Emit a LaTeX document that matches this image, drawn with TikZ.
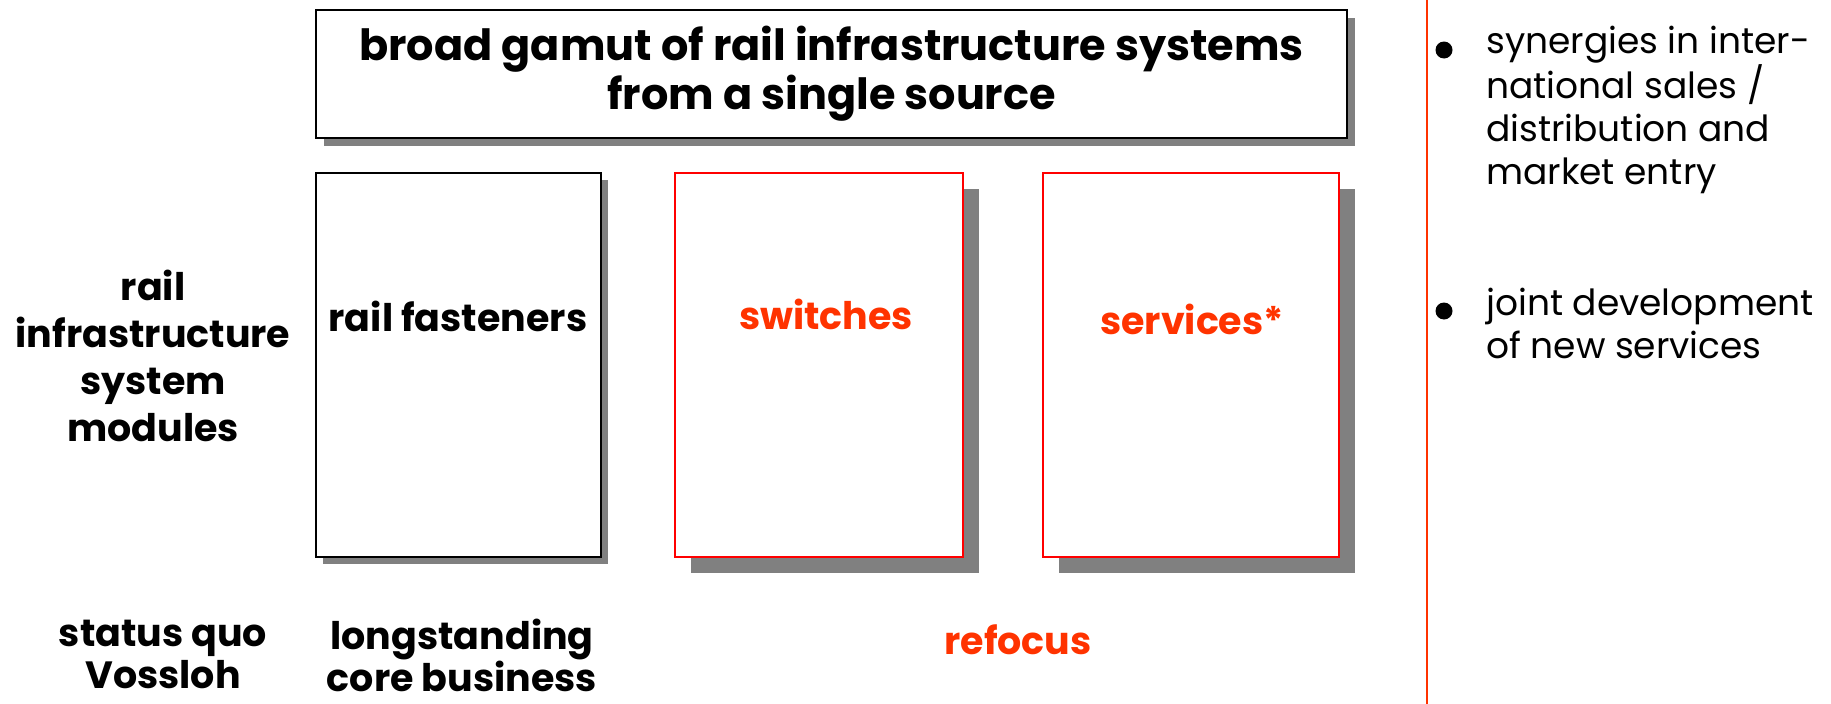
\documentclass[tikz,border=0pt]{standalone}
\usepackage{fontspec}
\setmainfont{Poppins}
\usetikzlibrary{positioning, shadows}

\definecolor{vred}{RGB}{255,0,0}
\definecolor{vorange}{RGB}{255,51,0}
\definecolor{vshadow}{RGB}{128,128,128}

\tikzset{
	modbox/.style={rectangle, draw, line width=2.2pt, fill=white, anchor=north west, inner sep=0pt},
	shadowed/.style={drop shadow={shadow xshift=#1, shadow yshift=-#1, fill=vshadow, opacity=1}},
	boldtxt/.style={font=\fontsize{38}{47}\selectfont\bfseries, align=center, inner sep=0pt},
	plaintxt/.style={font=\fontsize{36}{43}\selectfont, align=left, inner sep=0pt, anchor=north west},
	bulletdot/.style={circle, fill, inner sep=0pt, minimum size=17pt}
}

\begin{document}
\begin{tikzpicture}[x=1pt, y=-1pt]
		\useasboundingbox (0,0) rectangle (1831,704);
		
		\node[modbox, shadowed=8pt, minimum width=1031pt, minimum height=128pt] (gamut) at (315,9) {};
		\node[boldtxt, font=\fontsize{43}{49}\selectfont\bfseries] (gamuttxt) at (gamut.center) {broad gamut of rail infrastructure systems\\from a single source};
		
		\node[modbox, shadowed=7pt, minimum width=285pt, minimum height=384pt] (fast) at (315,172) {};
		\node[modbox, shadowed=16pt, draw=vred, line width=2pt, minimum width=288pt, minimum height=384pt] (switch) at (674,172) {};
		\node[modbox, shadowed=16pt, draw=vred, line width=2pt, minimum width=296pt, minimum height=384pt] (serv) at (1042,172) {};
		
		\node[boldtxt] (fasttxt) at (458,316) {rail fasteners};
		\node[boldtxt, text=vorange] (switchtxt) at (826,314) {switches};
		\node[boldtxt, text=vorange] (servtxt) at (1192,319) {services*};
		
		\node[boldtxt] (modules) at (153,356) {rail\\infrastructure\\system\\modules};
		\node[boldtxt, font=\fontsize{38}{42}\selectfont\bfseries] (statusquo) at (163,654) {status quo\\Vossloh};
		\node[boldtxt, font=\fontsize{38}{42}\selectfont\bfseries] (core) at (462,655) {longstanding\\core business};
		\node[boldtxt, text=vorange] (refocus) at (1018,640) {refocus};
		
		\coordinate (linetop) at (1427,0);
		\coordinate (linebot) at (1427,704);
		\draw[vorange, line width=1.6pt] (linetop) -- (linebot);
		
		\node[plaintxt] (syn) at (1486,26) {synergies in inter-\\national sales /\\distribution and\\market entry};
		\node[plaintxt] (joint) at (1486,288) {joint development\\of new services};
		\node[bulletdot] (bul1) at (1444,50) {};
		\node[bulletdot] (bul2) at (1444,311) {};

	\end{tikzpicture}
\end{document}
